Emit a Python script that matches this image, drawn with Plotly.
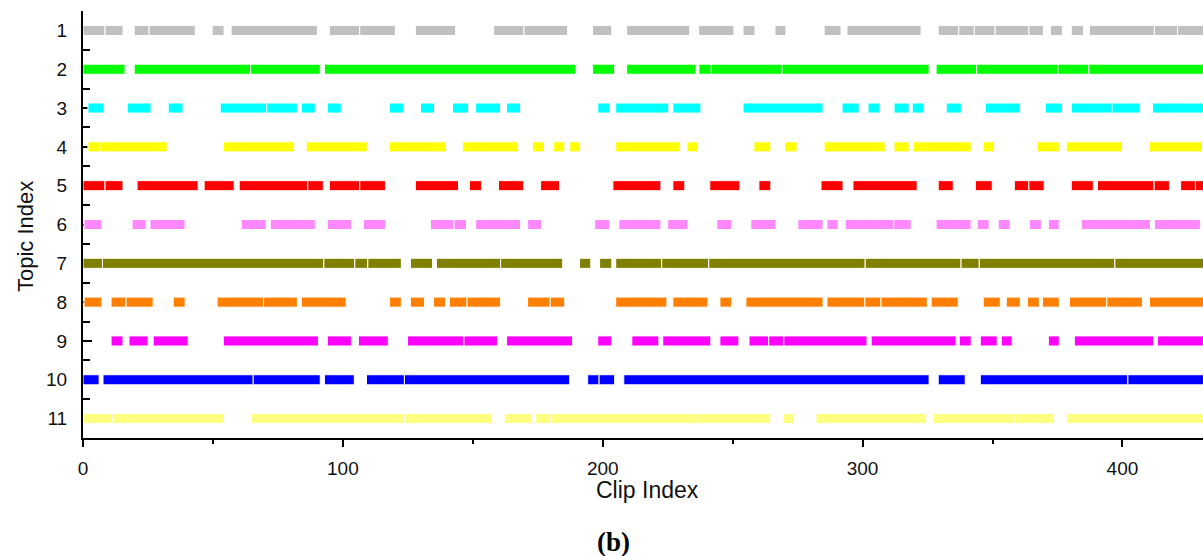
import plotly.graph_objects as go

# Segments (start, end) in clip-index units for each topic
topic1 = [(0, 8.5), (8.5, 15.4), (19.7, 25.4), (25.4, 43.2), (49.7, 54.3), (57, 90.2), (94.8, 106.5), (106.5, 120.2),
          (127.9, 143.4), (158, 169.7), (169.7, 186.5), (196.1, 203.5), (209.2, 233.5), (236.9, 250.5), (254, 258.6),
          (266.3, 270.5), (285.2, 291.7), (294, 322.5), (329.1, 337), (337, 343), (343, 351), (351, 364), (364, 369.6),
          (372.3, 376.9), (380.3, 385), (387.3, 412.3), (412.3, 421.2), (421.2, 432)]
topic2 = [(0, 16.2), (19.7, 64.5), (64.5, 91.3), (92.9, 189.6), (196.1, 204.6), (209.2, 235.8), (237, 241.8),
          (241.8, 269), (269, 325.6), (328.3, 343.9), (343.9, 375.2), (375.2, 387.1), (387.1, 432)]
topic3 = [(1.9, 8.1), (17, 26.2), (32.8, 38.5), (52.8, 70.7), (70.7, 82.5), (84, 89.4), (94, 99.4), (117.9, 123.3),
          (129.9, 135.3), (142.2, 148.4), (151.1, 160.7), (163, 168.4), (198.1, 202.7), (205, 225.4), (227, 237.8),
          (254, 284.8), (292.1, 298.7), (302.1, 306.7), (312.1, 317.9), (319.1, 323.7), (332.2, 338), (347.2, 360.7),
          (370.3, 376.9), (380.3, 396), (396, 406.9), (411.6, 432)]
topic4 = [(1.9, 6.5), (6.5, 32.4), (54, 81.3), (85.9, 109.4), (117.9, 139.5), (146, 167.2), (173, 177.6),
          (181.1, 185.4), (187.3, 191.5), (205, 229.7), (232.4, 236.6), (258.2, 264.7), (270.1, 274.8), (285.2, 308.7),
          (312.1, 317.9), (319.5, 341.8), (346.4, 350.7), (367.2, 375.7), (378.4, 400), (410.4, 430.8)]
topic5 = [(0, 8.5), (8.5, 15.4), (20.8, 44.3), (46.6, 58.2), (60.1, 86.5), (86.5, 92.5), (94.8, 106.5), (106.5, 116.4),
          (127.9, 144.5), (148.7, 153.4), (159.9, 169.6), (176.1, 183.4), (203.9, 222.4), (227, 231.6), (241.2, 252.8),
          (260.1, 264.7), (284, 292.5), (296.3, 321), (329.1, 334.9), (343.4, 349.9), (358.4, 364), (364, 369.9),
          (380.3, 388.8), (390.4, 412.2), (412.2, 418.1), (422.4, 428.1), (428.1, 432)]
topic6 = [(0.4, 7.3), (18.9, 24.3), (25.8, 39.3), (60.9, 70.5), (72.1, 89.4), (94, 103.3), (107.9, 116.4),
          (133.7, 142.8), (142.8, 147.6), (151.1, 168.4), (171.1, 176.5), (196.9, 202.7), (206.2, 222.4), (225, 232.8),
          (243.9, 249.7), (257, 266.7), (275.1, 284.8), (286.3, 290.6), (293.3, 312), (312, 318.7), (328.3, 341.8),
          (344.1, 348.7), (352.2, 356.8), (364.2, 368.8), (371.5, 375.7), (384.2, 410.8), (412.3, 430)]
topic7 = [(0, 7.5), (7.5, 92.7), (92.7, 104.6), (104.6, 109.6), (109.6, 122.5), (126, 134.5), (136, 160.7),
          (160.7, 184.6), (191.1, 195.4), (198.8, 203.5), (205, 222.7), (222.7, 240.8), (240.8, 301), (301, 337.9),
          (337.9, 344.9), (344.9, 397.1), (397.1, 432)]
topic8 = [(0.4, 7.3), (10.8, 16.6), (16.6, 27), (34.7, 39.3), (51.6, 69.5), (69.5, 82.5), (84, 101.3), (117.9, 122.5),
          (126, 131.4), (134.9, 139.5), (141, 147.8), (147.8, 160.7), (171.1, 179.8), (179.8, 185.4), (205, 224.7),
          (227, 240.5), (245.1, 249.7), (255.1, 284.8), (286.3, 300.9), (300.9, 307.1), (307.1, 324.9), (326.4, 336.8),
          (346.4, 353), (355.3, 360.7), (363.4, 368), (369.2, 375.7), (379.6, 394), (394, 407.7), (410.4, 432)]
topic9 = [(10.8, 15.4), (17.7, 25), (27, 40.5), (54, 90.6), (94, 103.3), (106, 117.5), (124.9, 146.6), (146.6, 159.5),
          (163, 188.4), (198.1, 203.5), (211.2, 221.6), (223.1, 241.6), (245.1, 252.4), (256.3, 263.9), (263.9, 269.7),
          (269.7, 301.7), (303.3, 336), (337.2, 341.8), (345.3, 351.8), (353.4, 357.6), (371.5, 375.7), (381.5, 412),
          (413.5, 432)]
topic10 = [(0, 6.2), (7.7, 65.5), (65.5, 91.3), (92.9, 104.4), (109.1, 123.7), (123.7, 187.3), (194.2, 198.6),
           (198.6, 204.6), (208.1, 325.6), (329.1, 339.5), (345.3, 402.1), (402.1, 432)]
topic11 = [(0, 11.5), (11.5, 54.3), (64.7, 123.7), (123.7, 157.6), (162.2, 172.6), (174.2, 179.8), (179.8, 235.8),
           (235.8, 258.8), (258.8, 264.7), (269.4, 273.6), (282.1, 324.5), (327.2, 358.2), (358.2, 373.8), (378.4, 432)]

topics = [topic1, topic2, topic3, topic4, topic5, topic6, topic7, topic8, topic9, topic10, topic11]
topic_labels = [str(i) for i in range(1, 12)]
colors = ["#C0C0C0", "#00FF00", "#00FFFF", "#FFFF00", "#FF0000", "#FF88FF",
          "#808000", "#FF8000", "#FF00FF", "#0000FF", "#FFFF80"]
x_ticks = [0, 100, 200, 300, 400]

fig = go.Figure()
for idx, (segs, col) in enumerate(zip(topics, colors)):
    row = idx + 1
    fig.add_trace(go.Bar(
        orientation="h",
        y=[row] * len(segs),
        base=[s for s, e in segs],
        x=[e - s for s, e in segs],
        width=0.26,
        marker=dict(color=col, line=dict(color="white", width=1)),
        showlegend=False,
        hoverinfo="skip",
    ))

font_family = "Liberation Sans, Arial, sans-serif"
fig.update_layout(
    width=1203, height=556,
    margin=dict(l=83, r=0, t=11, b=118),
    plot_bgcolor="white", paper_bgcolor="white",
    barmode="overlay",
    font=dict(family=font_family, size=19, color="#111"),
    xaxis=dict(
        range=[0, 431], showline=True, linecolor="black", linewidth=2,
        ticks="outside", ticklen=7, tickwidth=2, tickcolor="black",
        tickvals=x_ticks, ticktext=[str(v) for v in x_ticks],
        minor=dict(ticks="outside", tickvals=[50, 150, 250, 350], ticklen=4, tickwidth=2, tickcolor="black"),
        showgrid=False, zeroline=False, ticklabelstandoff=5, layer="below traces",
    ),
    yaxis=dict(
        range=[11.5, 0.5], showline=True, linecolor="black", linewidth=2,
        ticks="inside", ticklen=9, tickwidth=2, tickcolor="black",
        tickvals=list(range(1, 12)), ticktext=topic_labels,
        minor=dict(ticks="inside", tickvals=[i + 0.5 for i in range(0, 12)], ticklen=7, tickwidth=2, tickcolor="black"),
        showgrid=False, zeroline=False, ticklabelstandoff=10, layer="below traces",
    ),
    annotations=[
        dict(text="Topic Index", xref="paper", yref="paper", x=-0.0518, y=0.473, textangle=-90,
             showarrow=False, font=dict(family=font_family, size=22, color="#111"), xanchor="center", yanchor="middle"),
        dict(text="Clip Index", xref="paper", yref="paper", x=0.504, y=-0.1227,
             showarrow=False, font=dict(family=font_family, size=23, color="#111"), xanchor="center", yanchor="middle"),
        dict(text="<b>(b)</b>", xref="paper", yref="paper", x=0.474, y=-0.2445, borderpad=0,
             showarrow=False, font=dict(family="Liberation Serif, Times New Roman, serif", size=27, color="black"),
             xanchor="center", yanchor="middle"),
    ],
)

fig.write_html(
    "out.html",
    config={"displayModeBar": False},
    post_script="document.body.style.margin='0';document.body.style.overflow='hidden';",
)
